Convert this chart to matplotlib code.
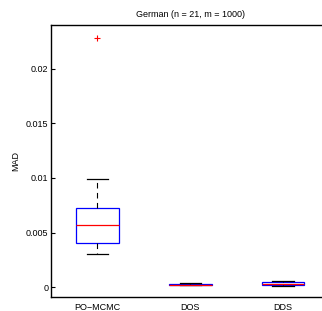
import matplotlib
matplotlib.use("Agg")
import matplotlib.pyplot as plt

categories = ["PO\u2212MCMC", "DOS", "DDS"]
# box stats: whislo, q1, med, q3, whishi, fliers
whislo = [0.00302, 0.00018, 0.00016]
q1 = [0.00406, 0.00019, 0.00020]
med = [0.00568, 0.00025, 0.00030]
q3 = [0.00729, 0.00030, 0.00052]
whishi = [0.00995, 0.00037, 0.00056]
fliers = [[0.02283], [], []]
yticks = [0, 0.005, 0.01, 0.015, 0.02]
ytick_labels = ["0", "0.005", "0.01", "0.015", "0.02"]

plt.rcParams['font.family'] = ['Liberation Sans', 'DejaVu Sans']
fig = plt.figure(figsize=(3.22, 3.11), dpi=100)
ax = fig.add_axes([51/322, 1-297/311, (329.5-51)/322, (297-25)/311])

stats = []
for i, c in enumerate(categories):
    stats.append(dict(label=c, whislo=whislo[i], q1=q1[i], med=med[i], q3=q3[i],
                      whishi=whishi[i], fliers=fliers[i]))
ax.bxp(stats, positions=[1, 2, 3], widths=0.46, patch_artist=True,
       boxprops=dict(facecolor='white', edgecolor='#0000ff', linewidth=0.9),
       medianprops=dict(color='#ff0000', linewidth=0.9),
       whiskerprops=dict(color='black', linestyle=(0, (5, 4)), linewidth=0.8),
       capprops=dict(color='black', linewidth=0.9),
       flierprops=dict(marker='+', markeredgecolor='#ff0000', markersize=5, markeredgewidth=0.8),
       capwidths=0.23)

ax.set_xlim(0.5, 3.5)
ax.set_ylim(-0.00089, 0.0240)
ax.set_yticks(yticks)
ax.set_yticklabels(ytick_labels, fontsize=6.5)
ax.tick_params(axis='y', direction='in', length=3, width=0.8, pad=2)
ax.tick_params(axis='x', length=0, labelsize=6.5, pad=4)
ax.set_xticks([1, 2, 3])
ax.set_xticklabels(categories)
ax.set_ylabel("MAD", fontsize=6.5, labelpad=4)
ax.set_title("German (n = 21, m = 1000)", fontsize=6.5, pad=6)
for s in ['left', 'top', 'bottom', 'right']:
    ax.spines[s].set_linewidth(1.0)

fig.savefig("out.png", dpi=100)
